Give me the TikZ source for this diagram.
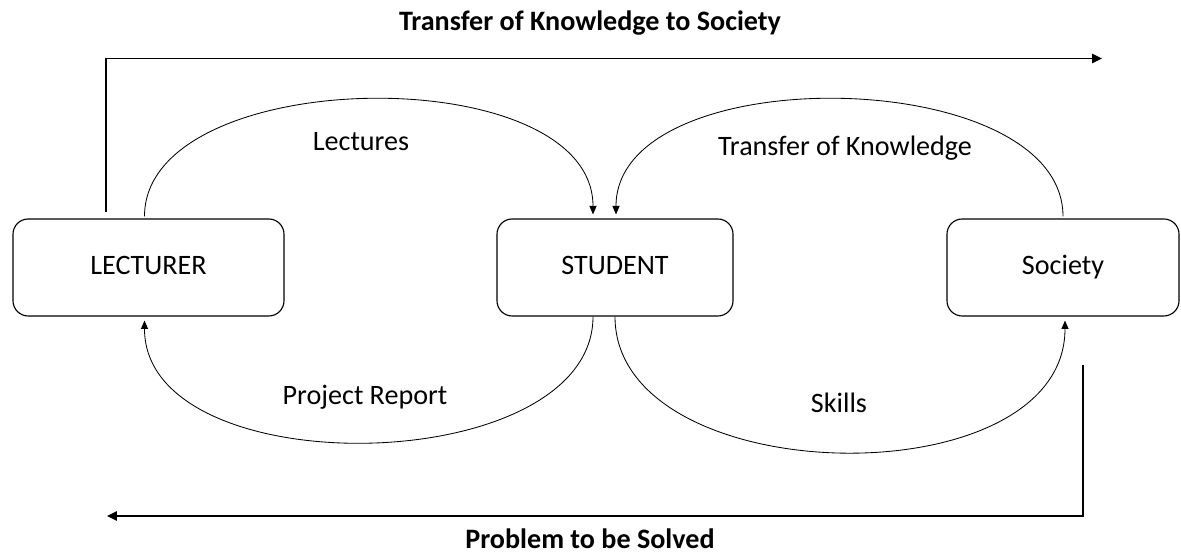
\documentclass[tikz,border=0pt]{standalone}
\usepackage{fontspec}
\setmainfont{Carlito}
\usetikzlibrary{shapes,arrows.meta,positioning,calc}

\begin{document}
\begin{tikzpicture}[
  box/.style={rectangle, draw, line width=0.8pt, rounded corners=0.38cm, minimum height=2.425cm, text height=0.45cm, text depth=0.1cm, font=\fontsize{20}{24}\selectfont},
  lbl/.style={font=\fontsize{20}{24}\selectfont},
  ttl/.style={font=\fontsize{20}{24}\selectfont\bfseries},
  flow/.style={line width=0.6pt, -{Triangle[length=6pt,width=5pt]}},
  big/.style={line width=1.4pt, -{Triangle[length=7pt,width=6.5pt]}}
]
\useasboundingbox (0,0) rectangle (29.525,13.925);

\node[box, minimum width=6.775cm] (lecturer) at (3.7125,7.2375) {LECTURER};
\node[box, minimum width=5.9cm] (student) at (15.375,7.2375) {STUDENT};
\node[box, minimum width=5.8cm] (society) at (26.575,7.2375) {Society};

% curved flows between the boxes
\draw[flow] ([xshift=-0.1cm,yshift=0.05cm]lecturer.north) .. controls +(0,3.82) and +(0,3.92) .. ([xshift=-0.55cm,yshift=0.1cm]student.north);
\draw[flow] ([yshift=0.05cm]society.north) .. controls +(0,3.82) and +(0,3.92) .. ([xshift=0.025cm,yshift=0.1cm]student.north);
\draw[flow] ([xshift=-0.55cm]student.south) .. controls +(0,-4.07) and +(0,-4.17) .. ([xshift=-0.1cm,yshift=-0.1cm]lecturer.south);
\draw[flow] (student.south) .. controls +(0,-4.4) and +(0,-4.5) .. ([xshift=0.05cm,yshift=-0.1cm]society.south);

\node[lbl] (lectures) at (9.025,10.375) {Lectures};
\node[lbl] (knowledge) at (21.125,10.225) {Transfer of Knowledge};
\node[lbl] (report) at (9.125,4.0) {Project Report};
\node[lbl] (skills) at (20.975,3.85) {Skills};

% outer loop
\coordinate (transferEnd) at (27.55,12.4625);
\coordinate (problemStart) at (27.075,4.8);
\coordinate (problemEnd) at (2.675,1.025);
\draw[big] ([xshift=2.35cm,yshift=0.15cm]lecturer.north west) |- (transferEnd);
\draw[big] (problemStart) |- (problemEnd);

\node[ttl] (transfer) at (14.75,13.35) {Transfer of Knowledge to Society};
\node[ttl] (problem) at (14.75,0.45) {Problem to be Solved};
\end{tikzpicture}
\end{document}
